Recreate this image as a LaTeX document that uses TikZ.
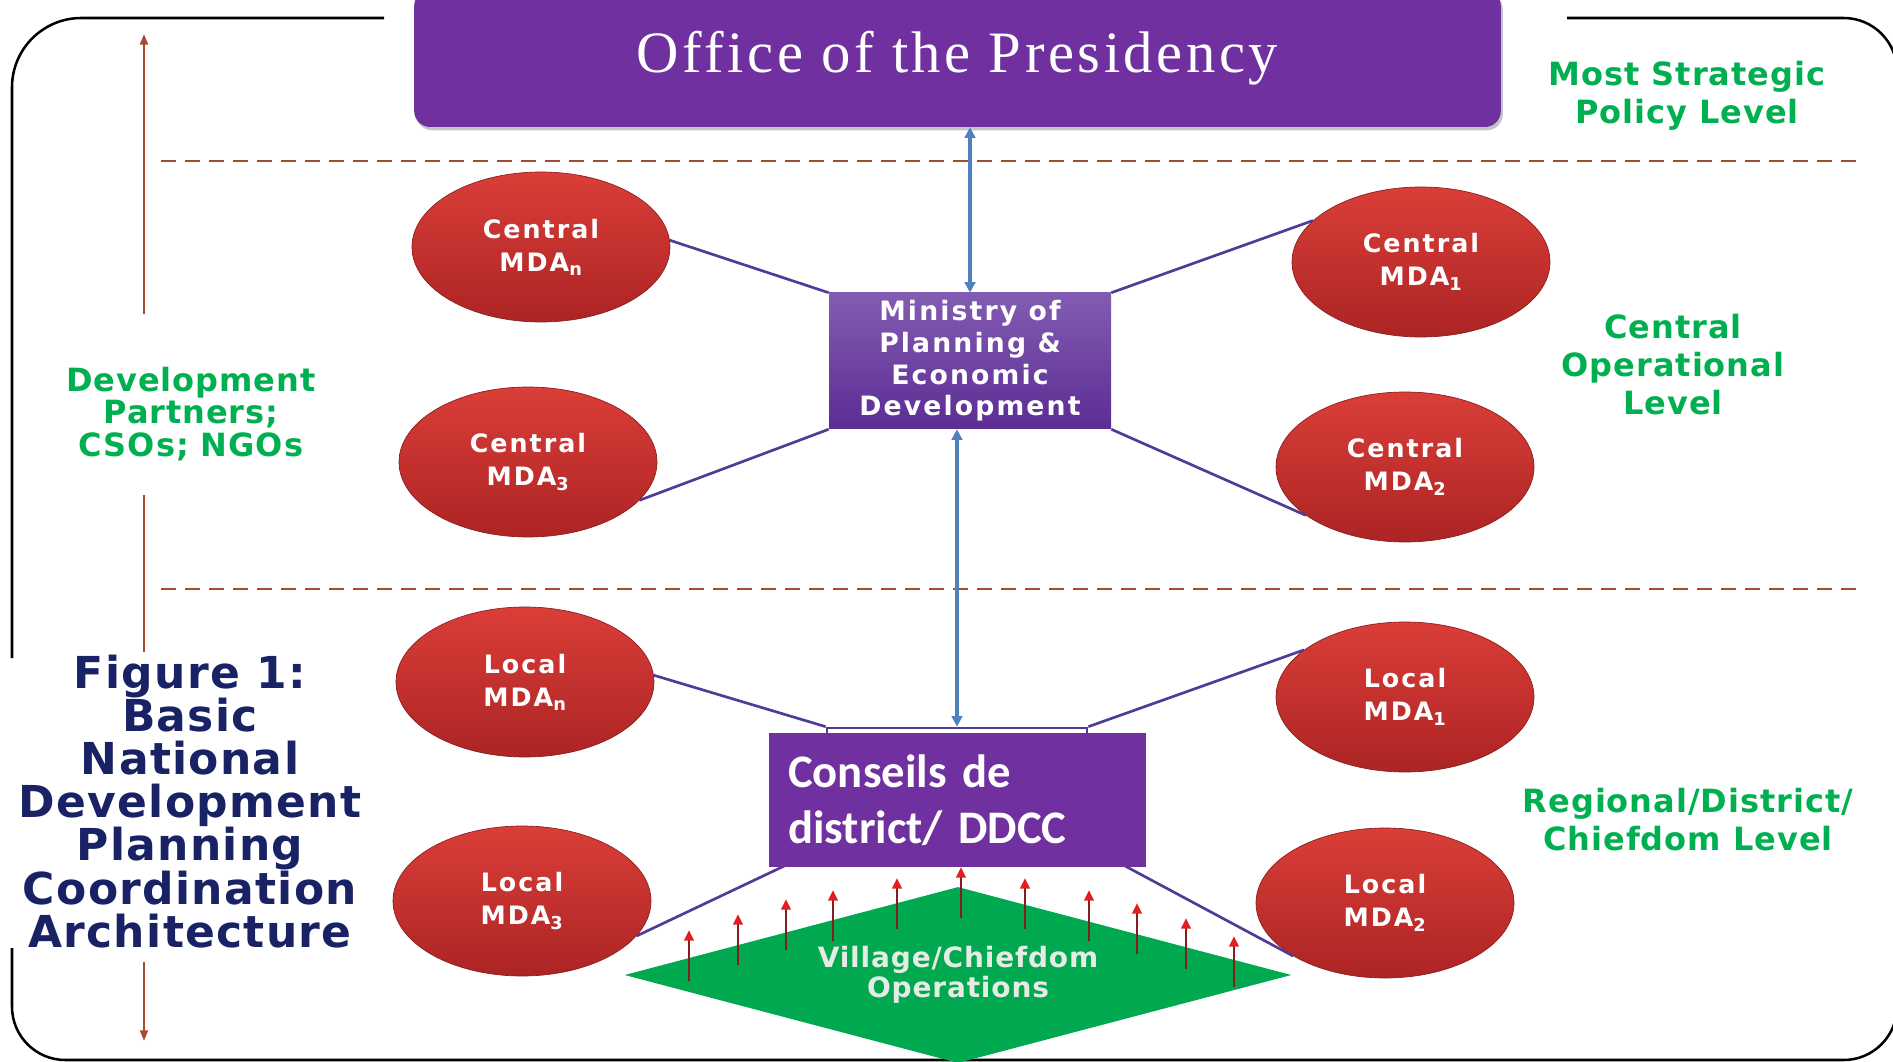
\documentclass[tikz,border=0pt]{standalone}
\usepackage{fontspec}
\usepackage{tikz}
\usetikzlibrary{arrows.meta,shapes.geometric,shadows}
\newfontfamily\heavyfont{DejaVu Sans}[LetterSpace=3]
\newfontfamily\mdafont{DejaVu Sans}[LetterSpace=8]
\newfontfamily\officefont{Liberation Serif}[LetterSpace=6]
\newfontfamily\calfont{Carlito}

\definecolor{presPurple}{RGB}{112,48,160}
\definecolor{lvlGreen}{RGB}{0,176,80}
\definecolor{capNavy}{RGB}{24,34,100}
\definecolor{dashBrown}{RGB}{165,75,50}
\definecolor{linkPurple}{RGB}{80,60,150}
\definecolor{linkBlue}{RGB}{79,129,189}
\definecolor{mdaTop}{RGB}{218,62,56}
\definecolor{mdaBot}{RGB}{172,36,36}
\definecolor{minTop}{RGB}{130,92,178}
\definecolor{minBot}{RGB}{92,44,148}
\definecolor{dmdGreen}{RGB}{0,168,80}
\definecolor{villText}{RGB}{228,236,228}
\definecolor{arrShaft}{RGB}{130,30,30}
\definecolor{arrHead}{RGB}{228,30,30}

\tikzset{
  mda/.style={ellipse, top color=mdaTop, bottom color=mdaBot, draw=mdaBot!80!black, line width=0.5pt,
    minimum width=193.5pt, minimum height=112.5pt, inner sep=0pt, align=center, text=white,
    font=\mdafont\bfseries\fontsize{19}{25}\selectfont},
  lvltxt/.style={align=center, text=lvlGreen, font=\heavyfont\bfseries\fontsize{24}{28.5}\selectfont},
  levelline/.style={dashBrown, line width=1.6pt, dash pattern=on 11pt off 7pt},
  sidearr/.style={dashBrown, line width=1.6pt},
  linkline/.style={linkPurple, line width=2pt},
  bluearr/.style={linkBlue, line width=2.4pt, {Triangle[length=8pt,width=8pt]}-{Triangle[length=8pt,width=8pt]}},
  uparr/.style={arrShaft, line width=2pt, -{Triangle[length=8pt,width=7pt,color=arrHead]}},
}

\begin{document}
\begin{tikzpicture}[x=0.75pt,y=0.75pt,yscale=-1,xscale=1]
\useasboundingbox (0,0) rectangle (1893,1062);
\fill[white] (0,0) rectangle (1893,1062);

% frame
\draw[line width=1.9pt, rounded corners=52pt] (384,18) -- (12,18) -- (12,658);
\draw[line width=1.9pt, rounded corners=40pt] (12,948) -- (12,1060) -- (1897,1060) -- (1897,18) -- (1567,18);

% level separators
\draw[levelline] (161,161) -- (1859,161);
\draw[levelline] (161,589) -- (1859,589);

% side arrow
\coordinate (vtop) at (144,34);
\coordinate (vbot) at (144,1041);
\draw[sidearr,-{Triangle[length=8pt,width=6pt]}] (144,314) -- (vtop);
\draw[sidearr] (144,495) -- (144,652);
\draw[sidearr,-{Triangle[length=8pt,width=6pt]}] (144,962) -- (vbot);

% Office of the Presidency
\node[fill=presPurple, rounded corners=12pt, minimum width=815pt, minimum height=102.75pt,
  drop shadow={opacity=0.45, shadow xshift=1.5pt, shadow yshift=-2.5pt},
  text=white, font=\officefont\fontsize{44}{50}\selectfont] (office) at (957.5,58.5) {Office of the Presidency};

% Ministry
\node[rectangle, top color=minTop, bottom color=minBot, minimum width=211.5pt, minimum height=102pt,
  inner sep=2pt, align=center, text=white, font=\mdafont\bfseries\fontsize{20}{23.8}\selectfont]
  (ministry) at (970,361) {Ministry of\\Planning \&\\Economic\\Development};

% central MDAs
\node[mda] (cn) at (541,247) {Central\\MDA\textsubscript{n}};
\node[mda] (c1) at (1421,262) {Central\\MDA\textsubscript{1}};
\node[mda] (c3) at (528,462) {Central\\MDA\textsubscript{3}};
\node[mda] (c2) at (1405,467) {Central\\MDA\textsubscript{2}};

% local MDAs
\node[mda] (ln) at (525,682) {Local\\MDA\textsubscript{n}};
\node[mda] (l1) at (1405,697) {Local\\MDA\textsubscript{1}};
\node[mda] (l3) at (522,901) {Local\\MDA\textsubscript{3}};
\node[mda] (l2) at (1385,903) {Local\\MDA\textsubscript{2}};

% district box (under the DDCC box)
\node[draw=linkPurple, line width=2pt, minimum width=195pt, minimum height=87.75pt] (dist) at (957,786.5) {};

\draw[linkline] (cn.3) -- (ministry.north west);
\draw[linkline] (c1.159) -- (ministry.north east);
\draw[linkline] (c3.-19) -- (ministry.south west);
\draw[linkline] (c2.206) -- (ministry.south east);

\draw[linkline] (ln.3) -- (dist.north west);
\draw[linkline] (l1.155) -- (dist.north east);
\draw[linkline] (l3.-17) -- (dist.south west);
\draw[linkline] (l2.210) -- (dist.south east);

\draw[bluearr] (ministry.north |- office.south) -- (ministry.north);
\draw[bluearr] (dist.north |- ministry.south) -- (dist.north);

% village diamond
\node[diamond, fill=dmdGreen, minimum width=500pt, minimum height=132pt, shape aspect=3.79, inner sep=0pt,
  align=center, text=villText, font=\heavyfont\bfseries\fontsize{21}{22.6}\selectfont]
  (village) at (958,975) {Village/Chiefdom\\Operations};

\foreach \x/\t in {689/930, 738/914, 786/899, 833/890, 897/878, 961/867, 1025/878, 1089/890, 1137/903, 1186/918, 1234/936}
  \draw[uparr] (\x,\t+51) -- (\x,\t);

% DDCC box
\node[fill=presPurple, minimum width=282.75pt, minimum height=100.5pt, text width=254pt, inner xsep=14pt,
  align=left, text=white, font=\calfont\bfseries\fontsize{35}{41.6}\selectfont]
  (ddcc) at (957.5,800) {Conseils de\\district/ DDCC};

% level labels
\node[lvltxt] (strat) at (1687,95.5) {Most Strategic\\Policy Level};
\node[lvltxt] (centop) at (1673,365) {Central\\Operational\\Level};
\node[lvltxt] (regdis) at (1688,819.5) {Regional/District/\\Chiefdom Level};
\node[lvltxt, font=\heavyfont\bfseries\fontsize{24}{24.5}\selectfont] (devpart) at (191,414) {Development\\Partners;\\CSOs; NGOs};

% caption
\node[align=center, text=capNavy, font=\heavyfont\bfseries\fontsize{33}{32.3}\selectfont]
  (figcap) at (190,801.5) {Figure 1:\\Basic\\National\\Development\\Planning\\Coordination\\Architecture};

\end{tikzpicture}
\end{document}
